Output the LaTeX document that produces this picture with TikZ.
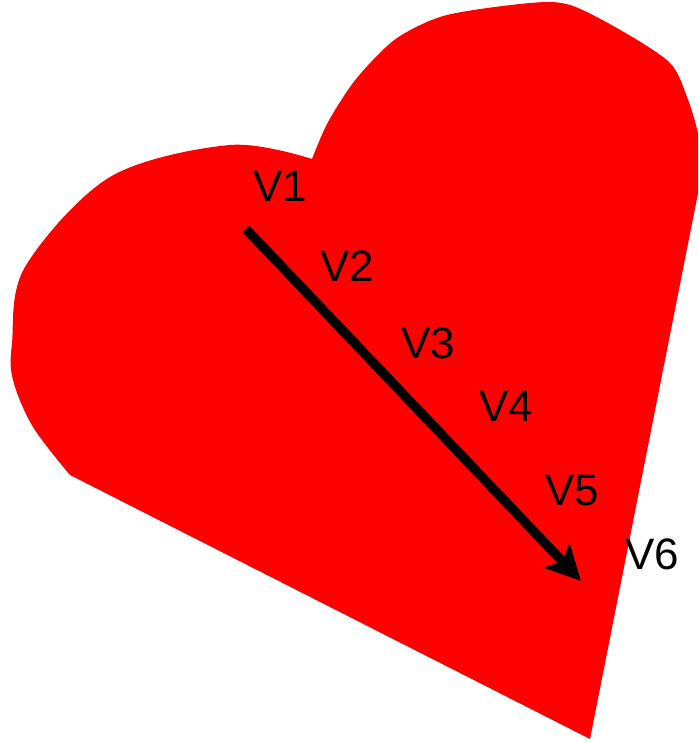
\documentclass[tikz,border=0pt]{standalone}
\usepackage{fontspec}
\setmainfont{Liberation Sans}
\usetikzlibrary{arrows.meta}
\definecolor{hatimerah}{RGB}{255,0,0}
\tikzset{
    label v/.style={inner sep=0pt, anchor=center, text=black, font=\fontsize{44}{50}\selectfont},
    panah/.style={line width=9.5pt, -{Stealth[length=35pt, width=35pt, inset=8pt]}}
}
\begin{document}
\begin{tikzpicture}[x=1pt,y=-1pt]
    % Batas gambar
    \useasboundingbox (0,0) rectangle (698,743);
    \clip (0,0) rectangle (698,743);

    % Bentuk hati
    \fill[hatimerah] (590,739) -- (703,168)
        -- plot[smooth, tension=0.5] coordinates {(703,168) (698,133) (687,97) (670,63) (622,31) (570,5) (530,3) (447,15) (400,36) (372,61) (350,87) (327,124) (312,159)}
        -- plot[smooth, tension=0.55] coordinates {(312,159) (230,145) (110,177) (25,267) (12,343) (13,380) (33,427) (70,475)}
        -- cycle;

    % Panah
    \coordinate (awal) at (246,229);
    \coordinate (ujung) at (581,581);
    \draw[panah] (awal) -- (ujung);

    % Label
    \node[label v] (v1) at (280,186) {V1};
    \node[label v] (v2) at (347,266) {V2};
    \node[label v] (v3) at (428,343) {V3};
    \node[label v] (v4) at (506,406) {V4};
    \node[label v] (v5) at (572,491) {V5};
    \node[label v] (v6) at (652,554) {V6};
\end{tikzpicture}
\end{document}
